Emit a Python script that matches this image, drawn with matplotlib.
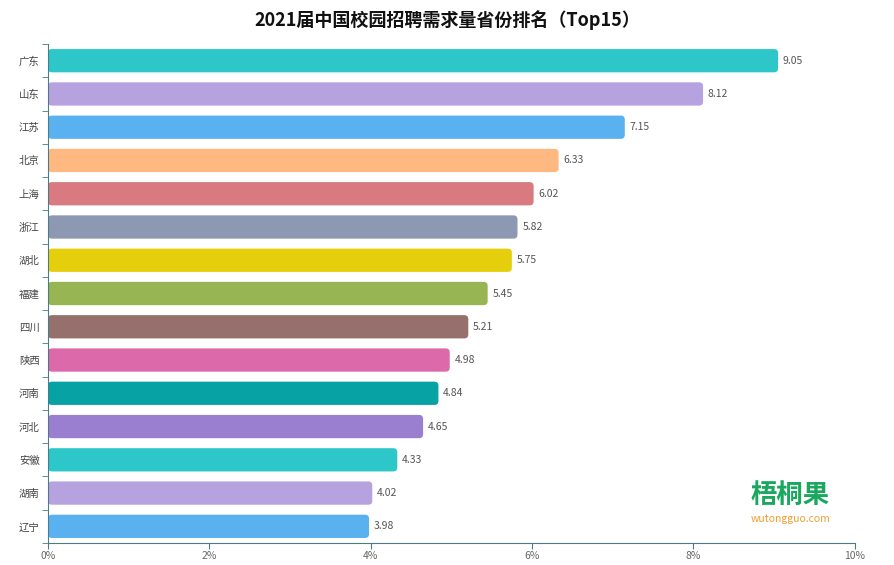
import matplotlib.pyplot as plt
from matplotlib.patches import FancyBboxPatch

plt.rcParams['font.family'] = ['Noto Sans CJK SC', 'DejaVu Sans']

provinces = ['广东', '山东', '江苏', '北京', '上海', '浙江', '湖北', '福建',
             '四川', '陕西', '河南', '河北', '安徽', '湖南', '辽宁']
values = [9.05, 8.12, 7.15, 6.33, 6.02, 5.82, 5.75, 5.45,
          5.21, 4.98, 4.84, 4.65, 4.33, 4.02, 3.98]
colors = ['#2ec7c9', '#b6a2de', '#5ab1ef', '#ffb980', '#d87a80', '#8d98b3',
          '#e5cf0d', '#97b552', '#95706d', '#dc69aa', '#07a2a4', '#9a7fd1',
          '#2ec7c9', '#b6a2de', '#5ab1ef']
xticks = [0, 2, 4, 6, 8, 10]

fig = plt.figure(figsize=(8.95, 5.65), dpi=100)
ax = fig.add_axes([0.0536, 0.039, 0.9014, 0.883])

ypos = list(range(len(provinces)))
bars = ax.barh(ypos, values, height=0.7, color=colors)
ax.set_xlim(0, 10)
ax.set_ylim(len(provinces) - 0.5, -0.5)

# swap plain bars for rounded ones
aspect = (1 / 33.3) / (1 / 80.7)
for b in bars:
    x, y = b.get_x(), b.get_y()
    w, h = b.get_width(), b.get_height()
    rb = FancyBboxPatch((x, y), w, h,
                        boxstyle='round,pad=0,rounding_size=0.05',
                        mutation_aspect=aspect, facecolor=b.get_facecolor(),
                        edgecolor='none')
    b.set_visible(False)
    ax.add_patch(rb)

for i, v in enumerate(values):
    ax.text(v + 0.06, i, f'{v:.2f}', va='center', ha='left',
            fontsize=7.5, color='#555555')

axis_c = '#4b7b84'
ax.set_yticks(ypos)
ax.set_yticklabels(provinces, fontsize=7.5, color='#444444')
ax.set_yticks([i - 0.5 for i in range(len(provinces) + 1)], minor=True)
ax.tick_params(axis='y', which='major', length=0, pad=6)
ax.tick_params(axis='y', which='minor', length=4, color=axis_c, direction='out')
ax.set_xticks(xticks)
ax.set_xticklabels([f'{t}%' for t in xticks], fontsize=7.5, color='#666666')
ax.tick_params(axis='x', length=4, color=axis_c, pad=2)

for s in ['top', 'right']:
    ax.spines[s].set_visible(False)
ax.spines['left'].set_color(axis_c)
ax.spines['bottom'].set_color(axis_c)

fig.text(0.5, 0.965, '2021届中国校园招聘需求量省份排名（Top15）', ha='center',
         va='center', fontsize=13, fontweight='bold', color='#111111')

fig.text(0.883, 0.124, '梧桐果', ha='center', va='center', fontsize=19,
         fontweight='bold', color='#1aa85f')
fig.text(0.883, 0.082, 'wutongguo.com', ha='center', va='center',
         fontsize=7.5, color='#f0a030')

fig.savefig('out.png', dpi=100)
